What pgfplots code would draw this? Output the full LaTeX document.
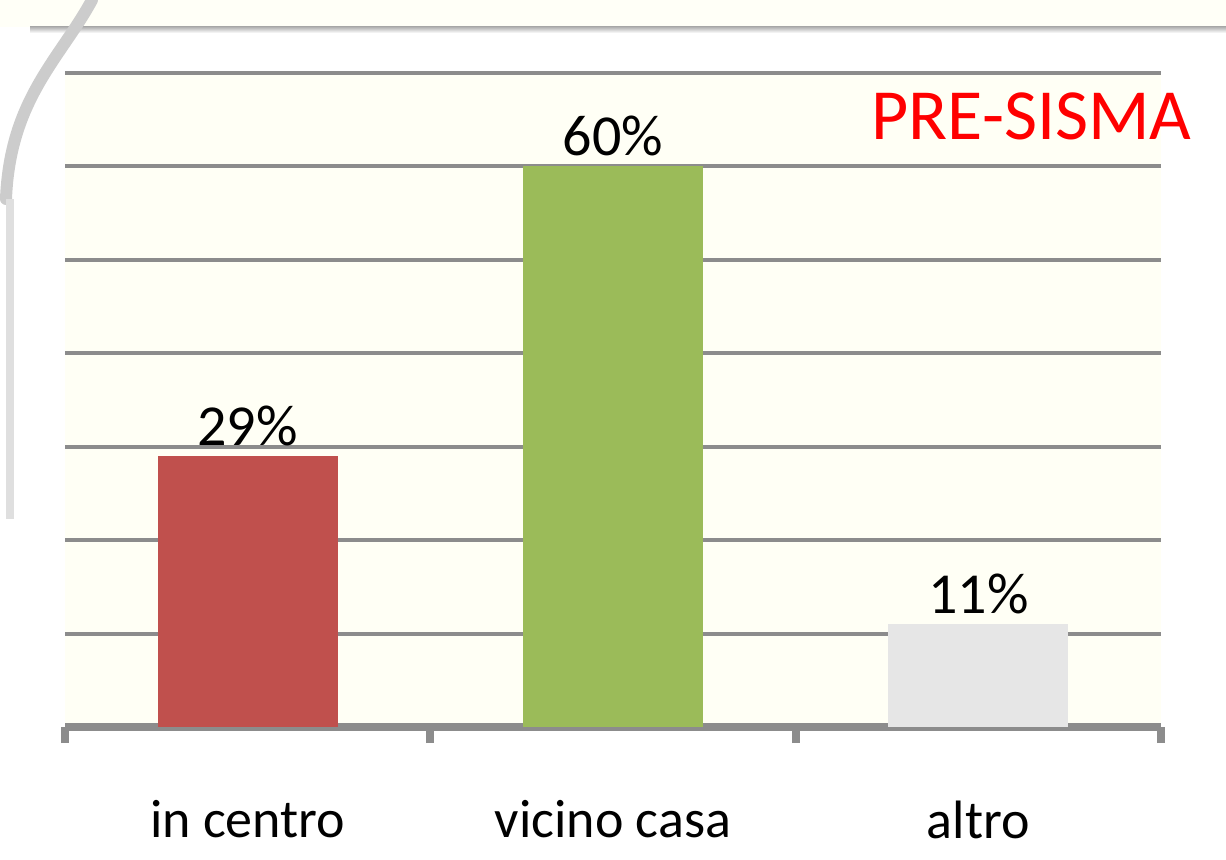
\documentclass[border=0pt]{standalone}
\usepackage{pgfplots}
\pgfplotsset{compat=1.18}
\usepackage{fontspec}
\setmainfont{Carlito}
\definecolor{cream}{RGB}{255,255,245}
\definecolor{gridgray}{RGB}{140,140,140}
\definecolor{barred}{RGB}{192,80,77}
\definecolor{bargreen}{RGB}{155,187,89}
\definecolor{bargray}{RGB}{230,230,230}
\begin{document}
\begin{tikzpicture}
\path[use as bounding box] (0,0) rectangle (613pt,429.5pt);
% page decorations
\fill[cream!80!white] (0,429.5pt) rectangle (613pt,416pt);
\shade[top color=gray!60, bottom color=white] (15pt,416pt) rectangle (613pt,413pt);
\draw[line width=6pt, gray!40, line cap=round] (46pt,429.5pt) .. controls (30pt,400pt) and (5pt,380pt) .. (3pt,330pt);
\draw[line width=4pt, gray!25] (5pt,330pt) -- (5pt,170pt);
\begin{axis}[
  at={(32.5pt,66pt)}, anchor=south west,
  scale only axis,
  width=548pt, height=327pt,
  ybar, bar width=90pt,
  xmin=-0.5, xmax=2.5, ymin=0, ymax=70,
  /pgf/number format/assume math mode=true,
  axis background/.style={fill=cream},
  axis x line*=bottom, axis y line*=left,
  y axis line style={draw=none},
  x axis line style={line width=4pt, gridgray, -},
  ytick={10,20,...,70}, yticklabels={}, ytick style={draw=none},
  ymajorgrids, grid style={line width=2pt, gridgray},
  xtick={0,1,2}, xticklabels={in centro, vicino casa, altro},
  xtick style={draw=none},
  extra x ticks={-0.5,0.5,1.5,2.5}, extra x tick labels={},
  extra x tick style={xtick style={draw=gridgray, line width=4pt}, major tick length=8pt, tick align=outside, xmajorgrids=false},
  xticklabel style={font=\fontsize{27}{27}\selectfont, yshift=-29pt},
  nodes near coords={\pgfmathprintnumber{\pgfplotspointmeta}\%},
  nodes near coords style={font=\fontsize{29}{29}\selectfont, anchor=south, inner sep=0pt, yshift=5pt},
  clip=false,
]
\addplot[fill=barred, draw=none, bar shift=0pt] coordinates {(0,29)};
\addplot[fill=bargreen, draw=none, bar shift=0pt] coordinates {(1,60)};
\addplot[fill=bargray, draw=none, bar shift=0pt] coordinates {(2,11)};
\end{axis}
\node[anchor=base east, text=red, inner sep=0pt, font=\fontsize{36}{36}\selectfont] at (596pt,359.5pt) {PRE-SISMA};
\end{tikzpicture}
\end{document}
